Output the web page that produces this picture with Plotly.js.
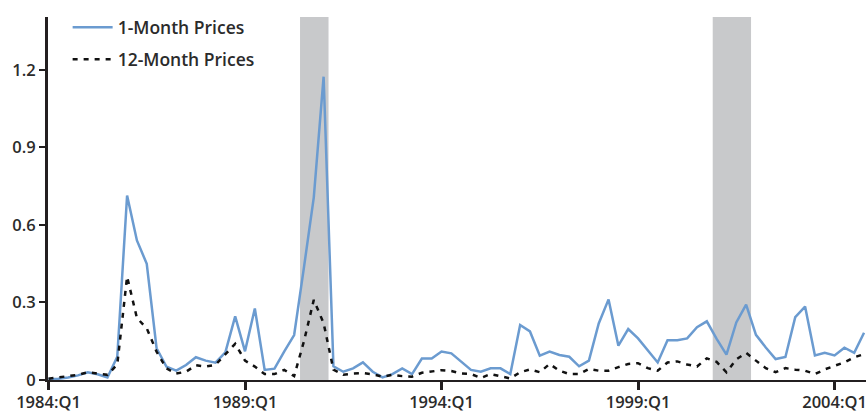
<!DOCTYPE html>
<html>
<head>
<meta charset="utf-8">
<script src="https://cdn.plot.ly/plotly-3.0.1.min.js"></script>
<style>html,body{margin:0;padding:0;background:#fff;}#chart{width:866px;height:413px;}</style>
</head>
<body>
<div id="chart"></div>
<script>
// Quarterly series, 1984:Q1 .. 2004:Q4
var startYear = 1984;
var oneMonth = [0.004,0.005,0.010,0.018,0.030,0.022,0.010,0.090,0.714,0.540,0.450,0.123,0.052,0.036,0.058,0.088,0.075,0.067,0.107,0.246,
  0.111,0.277,0.039,0.044,0.111,0.174,0.436,0.707,1.174,0.053,0.032,0.045,0.068,0.032,0.010,0.023,0.045,0.023,0.083,0.083,
  0.110,0.103,0.071,0.039,0.032,0.045,0.045,0.023,0.213,0.188,0.094,0.110,0.097,0.090,0.053,0.075,0.219,0.312,0.133,0.197,
  0.161,0.114,0.068,0.154,0.154,0.161,0.204,0.227,0.159,0.098,0.223,0.292,0.175,0.126,0.081,0.089,0.243,0.284,0.095,0.105,
  0.095,0.125,0.105,0.183];
var twelveMonth = [0.005,0.010,0.015,0.020,0.030,0.025,0.020,0.060,0.400,0.240,0.200,0.110,0.045,0.025,0.032,0.057,0.052,0.059,0.098,0.140,
  0.075,0.052,0.023,0.023,0.039,0.015,0.150,0.310,0.220,0.040,0.020,0.025,0.027,0.022,0.013,0.020,0.015,0.013,0.028,0.032,
  0.038,0.035,0.025,0.023,0.008,0.023,0.013,0.006,0.030,0.041,0.030,0.062,0.036,0.023,0.023,0.043,0.036,0.036,0.050,0.062,
  0.065,0.046,0.036,0.068,0.072,0.060,0.052,0.084,0.070,0.030,0.080,0.105,0.075,0.046,0.030,0.046,0.040,0.036,0.023,0.041,
  0.055,0.068,0.088,0.100];
var tickLabels = ["1984:Q1","1989:Q1","1994:Q1","1999:Q1","2004:Q1"];
var yTicks = [0, 0.3, 0.6, 0.9, 1.2];
var yTickText = ["0","0.3","0.6","0.9","1.2"];
// recession periods (quarter labels)
var recessions = [["1990:Q3","1991:Q1"],["2001:Q1","2001:Q4"]];

var quarters = [];
for (var i = 0; i < oneMonth.length; i++) {
  quarters.push((startYear + Math.floor(i/4)) + ":Q" + (i%4 + 1));
}
var tickVals = tickLabels.map(function(t){ return quarters.indexOf(t); });

var shapes = recessions.map(function(r){
  return {type:"rect", xref:"x", yref:"paper",
    x0: quarters.indexOf(r[0]) - 0.4, x1: quarters.indexOf(r[1]) + 0.5,
    y0: 0, y1: 1, fillcolor:"#c8c9cb", line:{width:0}, layer:"below"};
});

var tickFont = {family:"Open Sans, DejaVu Sans, sans-serif", size:16.5, color:"#2b2b2b", weight:600};
var legFont = {family:"Open Sans, DejaVu Sans, sans-serif", size:17.5, color:"#2b2b2b", weight:600};

var traces = [
  {x: quarters.map(function(_,i){return i;}), y: oneMonth, type:"scatter", mode:"lines",
   name:"1-Month Prices", line:{color:"#6b9bd0", width:2.5}, legend:"legend"},
  {x: quarters.map(function(_,i){return i;}), y: twelveMonth, type:"scatter", mode:"lines",
   name:"12-Month Prices", line:{color:"#111111", width:2.5, dash:"5px,6px"}, legend:"legend2"}
];

var layout = {
  width:866, height:413,
  margin:{l:48, r:0, t:17, b:33},
  paper_bgcolor:"#fff", plot_bgcolor:"#fff",
  font: tickFont,
  showlegend:true,
  legend:{x:0.024, y:1.021, xanchor:"left", yanchor:"top", bgcolor:"rgba(0,0,0,0)", font:legFont, itemwidth:40},
  legend2:{x:0.024, y:0.933, xanchor:"left", yanchor:"top", bgcolor:"rgba(0,0,0,0)", font:legFont, itemwidth:40},
  xaxis:{range:[-0.05, 83.2], tickmode:"array", tickvals:tickVals, ticktext:tickLabels,
    ticks:"outside", ticklen:8, tickwidth:3, tickcolor:"#231f20",
    showline:true, linecolor:"#231f20", linewidth:2, showgrid:false, zeroline:false,
    ticklabeloverflow:"allow", ticklabelstandoff:-2,
    tickfont:tickFont, fixedrange:true},
  yaxis:{range:[0, 1.405], tickmode:"array", tickvals:yTicks, ticktext:yTickText,
    ticks:"outside", ticklen:6, tickwidth:2, tickcolor:"#231f20",
    showline:true, linecolor:"#231f20", linewidth:3, showgrid:false, zeroline:false,
    tickfont:tickFont, fixedrange:true},
  shapes: shapes
};

Plotly.newPlot("chart", traces, layout, {displayModeBar:false, staticPlot:true});
</script>
</body>
</html>
